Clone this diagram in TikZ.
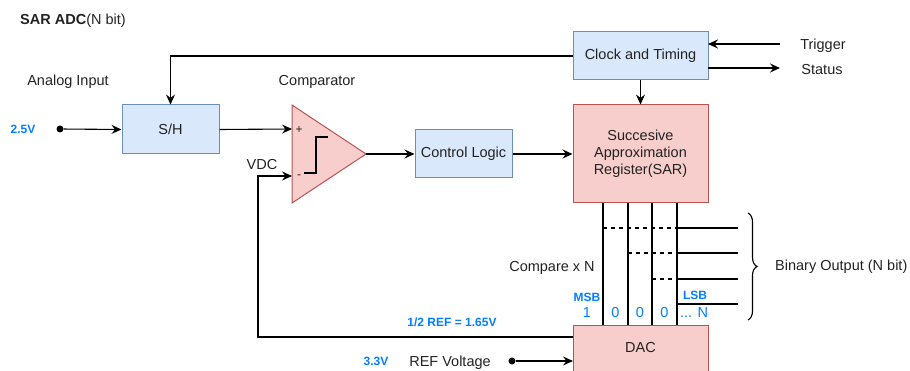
\documentclass[tikz,border=0pt]{standalone}
\usepackage{fontspec}
\setmainfont{Liberation Sans}
\usetikzlibrary{arrows.meta,decorations.pathreplacing}
\definecolor{bfill}{HTML}{DAE8FC}
\definecolor{bline}{HTML}{6C8EBF}
\definecolor{rfill}{HTML}{F8CECC}
\definecolor{rline}{HTML}{B85450}
\definecolor{lbl}{HTML}{007FFF}
\definecolor{txt}{HTML}{222222}
\tikzset{
  bbox/.style={draw=bline, fill=bfill, line width=1pt, inner sep=0pt, text=txt, align=center},
  rbox/.style={draw=rline, fill=rfill, line width=1pt, inner sep=0pt, text=txt, align=center},
  arr/.style={-{Stealth[length=10pt,width=9pt,inset=3.5pt]}, line width=1.1pt},
  wire/.style={line width=1.1pt},
  lab/.style={text=txt, inner sep=0pt, yshift=-1.5pt},
  blab/.style={text=lbl, inner sep=0pt, font=\fontsize{12}{14}\selectfont\bfseries},
  dotdot/.style={circle, fill=black, inner sep=0pt, minimum size=7pt},
}
\begin{document}
\begin{tikzpicture}[x=1pt,y=-1pt,font=\fontsize{14.5}{17}\selectfont]
\useasboundingbox (0,0) rectangle (910,371);

% title
\node[lab, anchor=west] (title) at (20,19) {\textbf{SAR ADC}(N bit)};

% boxes
\node[bbox, minimum width=97pt, minimum height=49pt] (sh) at (170.5,129.5) {S/H};
\node[bbox, minimum width=97pt, minimum height=48pt] (ctl) at (463.5,154) {Control Logic};
\node[bbox, minimum width=135pt, minimum height=48pt] (clk) at (640.5,56) {\raisebox{-1.5pt}{Clock and Timing}};
\node[rbox, minimum width=135pt, minimum height=98pt] (sar) at (640.5,154) {Succesive\\Approximation\\Register(SAR)};
\node[rbox, minimum width=135pt, minimum height=46pt] (dac) at (640.5,348) {DAC};

% comparator
\coordinate (ctop) at (292,105);
\coordinate (cbot) at (292,203);
\coordinate (cout) at (366,154);
\draw[draw=rline, fill=rfill, line width=1pt] (ctop) -- (cout) -- (cbot) -- cycle;
\coordinate (cplus) at (292,129);
\coordinate (cminus) at (292,176);
\node[lab, font=\fontsize{12}{14}\selectfont] (plus) at (299,129) {+};
\node[lab, font=\fontsize{12}{14}\selectfont] (minus) at (299,175) {-};
\draw[wire] (304,173) -- (316,173) -- (316,137) -- (328,137);
\node[lab] (cmplab) at (317,80) {Comparator};
\node[lab] (vdc) at (262,163) {VDC};

% analog input
\node[lab] (ain) at (68,80) {Analog Input};
\node[blab] (v25) at (23,129) {2.5V};
\node[dotdot] (indot) at (60,129) {};
\draw[arr] (indot) -- (sh.west);
\draw[arr] (sh.east) -- (cplus);
\draw[arr] (cout) -- (ctl.west);
\draw[arr] (ctl.east) -- (sar.west);

% clock feedback to S/H
\draw[arr] (clk.west) -| (sh.north);
\draw[arr] (clk.south) -- (sar.north);

% trigger / status
\coordinate (trigend) at (780,44);
\coordinate (statend) at (780,68);
\coordinate (clktrig) at (708,44);
\coordinate (clkstat) at (708,68);
\draw[arr] (trigend) -- (clktrig);
\draw[arr] (clkstat) -- (statend);
\node[lab] (trig) at (823,44) {Trigger};
\node[lab] (stat) at (822,68) {Status};

% DAC feedback
\coordinate (dacfb) at (573,337);
\draw[arr] (dacfb) -- (258,337) |- (cminus);
\node[blab] (half) at (452,322) {1/2 REF = 1.65V};

% REF voltage
\node[blab] (v33) at (376,361) {3.3V};
\node[lab] (refv) at (450,361) {REF Voltage};
\node[dotdot] (refdot) at (512,361) {};
\coordinate (dacref) at (573,361);
\draw[arr] (refdot) -- (dacref);

% bit lines
\foreach \x/\n in {603/a,628/b,652/c,677/d}{
  \coordinate (t\n) at (\x,203);
  \coordinate (b\n) at (\x,325);
  \draw[wire] (t\n) -- (b\n);
}
\draw[wire, dash pattern=on 4pt off 4pt] (603,228) -- (677,228);
\draw[wire] (677,228) -- (738,228);
\draw[wire, dash pattern=on 4pt off 4pt] (628,253) -- (677,253);
\draw[wire] (677,253) -- (738,253);
\draw[wire, dash pattern=on 4pt off 4pt] (652,279) -- (677,279);
\draw[wire] (677,279) -- (738,279);
\draw[wire] (677,304) -- (738,304);

\node[lab] (cmpn) at (552,266) {Compare x N};
\node[blab] (msb) at (587,297) {MSB};
\node[blab] (lsb) at (695,295) {LSB};
\node[text=lbl, inner sep=0pt] (b1) at (587,313) {1};
\node[text=lbl, inner sep=0pt] (b2) at (615.5,313) {0};
\node[text=lbl, inner sep=0pt] (b3) at (640,313) {0};
\node[text=lbl, inner sep=0pt] (b4) at (664.5,313) {0};
\node[text=lbl, inner sep=0pt] (bn) at (694,313) {... N};

% brace
\draw[wire, decorate, decoration={brace, amplitude=9pt, aspect=0.5}] (748,213) -- (748,320);
\node[lab, anchor=west] (binout) at (775,265) {Binary Output (N bit)};
\end{tikzpicture}
\end{document}
